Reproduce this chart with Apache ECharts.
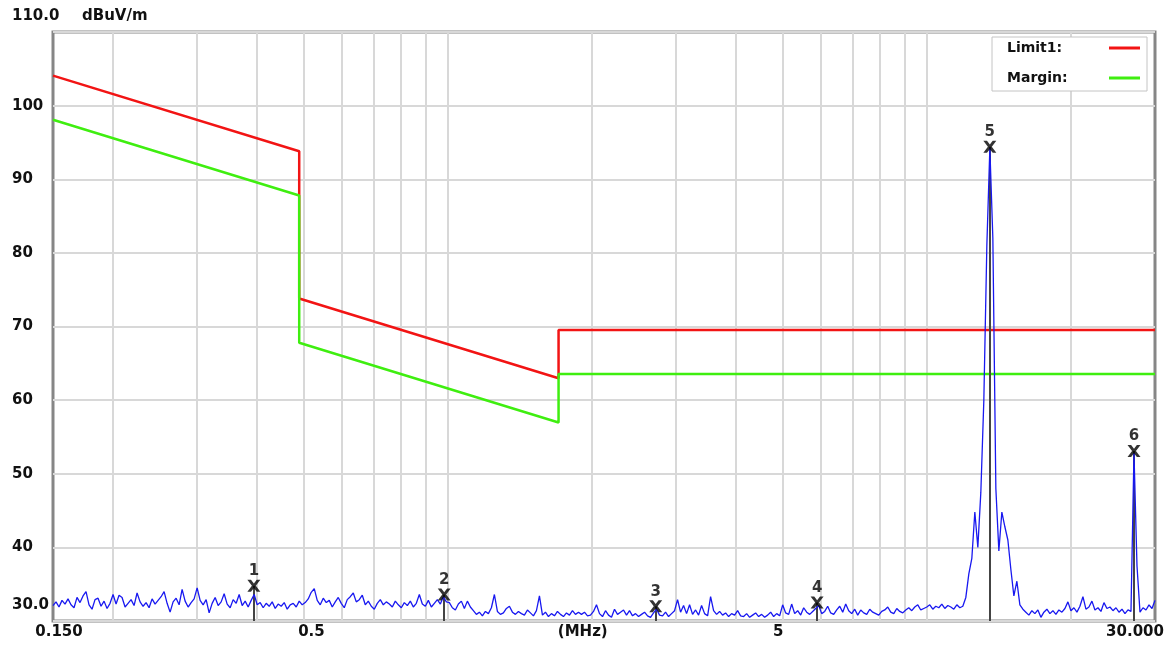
<!DOCTYPE html>
<html>
<head>
<meta charset="utf-8">
<script src="https://cdn.jsdelivr.net/npm/echarts@6/dist/echarts.min.js"></script>
<style>
  html, body { margin: 0; padding: 0; background: #fff; }
  #chart { width: 1169px; height: 648px; }
</style>
</head>
<body>
<div id="chart"></div>
<script>
// limit line (FCC 15.209 @3m) and the 6 dB margin line, MHz / dBuV/m
var limitFreqs   = [0.15, 0.49, 0.49, 1.705, 1.705, 30];
var limitLevels  = [104.08, 93.80, 73.80, 62.97, 69.54, 69.54];
var marginLevels = [98.08, 87.80, 67.80, 56.97, 63.54, 63.54];

// peak markers
var markerNames  = ['1', '2', '3', '4', '5', '6'];
var markerFreqs  = [0.394, 0.984, 2.72, 5.91, 13.56, 27.12];
var markerLevels = [34.8, 33.6, 32.0, 32.5, 94.4, 53.1];

// x axis
var gridFreqs  = [0.2, 0.3, 0.4, 0.5, 0.6, 0.7, 0.8, 0.9, 1, 2, 3, 4, 5, 6, 7, 8, 9, 10, 20];
var labelFreqs = [0.15, 0.5, 2, 5, 30];
var labelTexts = ['0.150', '0.5', '(MHz)', '5', '30.000'];
var yMin = 30, yMax = 110;

// measured trace, one value per sweep point (log sweep 0.15 .. 30 MHz)
var traceLevels = [
  // 0.15 - 0.5 MHz
  32.1, 32.6, 31.9, 32.8, 32.3, 33.0, 32.2, 31.8, 33.2, 32.5, 33.4, 34.0, 32.2, 31.6, 32.9, 33.1, 32.0, 32.7, 31.7, 32.4,
  33.6, 32.3, 33.5, 33.2, 31.9, 32.4, 32.9, 32.1, 33.8, 32.6, 32.0, 32.5, 31.8, 33.0, 32.3, 32.8, 33.3, 34.0, 32.4, 31.2,
  32.6, 33.1, 32.2, 34.3, 32.7, 31.9, 32.5, 33.0, 34.5, 32.8, 32.2, 32.9, 31.1, 32.4, 33.2, 32.1, 32.6, 33.7, 32.3, 31.8,
  32.9, 32.4, 33.6, 32.1, 32.7, 31.9, 32.8, 33.6, 32.2, 32.5, 31.8, 32.4, 32.0, 32.6, 31.7, 32.3, 32.0, 32.5, 31.6, 32.2,
  32.4, 31.9, 32.7, 32.2,
  // 0.5 - 1 MHz
  32.5, 33.0, 33.9, 34.4, 32.8, 32.2, 33.1, 32.5, 32.8, 31.9, 32.6, 33.2, 32.4, 31.8, 32.9, 33.3,
  33.8, 32.6, 32.9, 33.5, 32.2, 32.7, 32.0, 31.6, 32.4, 32.9, 32.2, 32.6, 32.3, 31.9, 32.7, 32.2,
  31.8, 32.5, 32.1, 32.7, 31.9, 32.4, 33.6, 32.3, 32.0, 32.8, 31.9, 32.4, 32.9, 32.3, 33.3, 32.6,
  // 1 - 2 MHz
  32.5, 31.8, 31.5, 32.3, 32.7, 31.7, 32.7, 31.9, 31.4, 30.9, 31.2, 30.7, 31.3, 31.0, 31.8, 33.6,
  31.3, 30.9, 31.1, 31.7, 32.0, 31.2, 30.9, 31.3, 31.0, 30.8, 31.5, 31.1, 30.7, 31.4, 33.4, 30.8,
  31.2, 30.6, 31.0, 30.7, 31.3, 30.9, 30.6, 31.1, 30.8, 31.4, 30.9, 31.2,
  // 2 - 5 MHz
  30.9, 31.2, 30.7, 30.8, 31.3, 32.2, 31.0, 30.6, 31.4, 30.8, 30.5, 31.6, 30.9, 31.2, 31.5, 30.8,
  31.4, 30.7, 31.0, 30.6, 30.9, 31.2, 30.7, 30.5, 31.1, 31.6, 30.8, 30.7, 31.2, 30.6, 31.0, 31.4,
  32.9, 31.2, 32.1, 31.0, 32.2, 30.9, 31.5, 30.8, 32.1, 31.0, 30.7, 33.3, 31.4, 30.9, 31.3, 30.8,
  31.1, 30.6, 31.0, 30.8, 31.4, 30.7, 30.6, 31.0, 30.5, 30.8, 31.1, 30.6, 30.9, 30.5, 30.8, 31.2, 30.6, 31.0, 30.7, 32.2,
  // 5 - 10 MHz
  31.1, 30.9, 32.3, 31.0, 31.4, 30.8, 31.8, 31.2, 30.9, 31.3, 31.7, 32.1, 31.0, 31.3, 32.0, 31.1,
  30.9, 31.5, 32.0, 31.2, 32.3, 31.4, 31.0, 31.6, 30.8, 31.5, 31.1, 30.9, 31.6, 31.2, 31.0, 30.8,
  31.3, 31.5, 31.9, 31.2, 31.0, 31.7, 31.3, 31.1, 31.5, 31.8, 31.4, 31.9, 32.2, 31.5, 31.7,
  // 10 - 12 MHz
  31.9, 32.2, 31.6, 32.0, 31.8, 32.3, 31.7, 32.1, 31.9, 31.6, 32.2, 31.8, 32.0,
  // 13.56 MHz carrier
  33.2, 36.4, 38.5, 44.8, 40.0, 47.5, 60.0, 81.0, 94.2, 82.0,
  48.0, 39.5, 44.8, 42.8, 41.0, 37.0, 33.4, 35.4, 32.2, 31.6,
  // 15 - 30 MHz
  31.2, 30.8, 31.4, 31.0, 31.5, 30.5, 31.2, 31.6, 31.0, 31.4, 30.9, 31.5, 31.2, 31.7, 32.6, 31.4,
  31.8, 31.2, 32.0, 33.3, 31.6, 31.9, 32.7, 31.5, 31.8, 31.3, 32.5, 31.7, 31.9, 31.4, 31.8, 31.2,
  31.6, 31.0, 31.5, 31.3, 52.8, 37.5, 31.2, 31.8, 31.5, 32.2, 31.7, 32.8
];

var FONT = 'DejaVu Sans';
var sweepIdx = traceLevels.map(function (v, i) { return i; });

function pairs(xs, ys) {
  return xs.map(function (x, i) { return [x, ys[i]]; });
}

var xRich = {
  lo:   { padding: [0, 0, 0, 12] },
  mid:  { padding: [0, 0, 0, 16] },
  mhz:  { padding: [0, 18, 0, 0] },
  five: { padding: [0, 8, 0, 0] },
  hi:   { padding: [0, 40, 0, 0] }
};
var xRichKeys = ['lo', 'mid', 'mhz', 'five', 'hi'];
for (var k in xRich) {
  xRich[k].fontFamily = FONT; xRich[k].fontWeight = 'bold'; xRich[k].fontSize = 15; xRich[k].color = '#111';
}

var myChart = echarts.init(document.getElementById('chart'));

var option = {
  animation: false,
  backgroundColor: '#fff',
  title: {
    text: 'dBuV/m',
    left: 82, top: 9, padding: 0,
    textStyle: { fontFamily: FONT, fontWeight: 'bold', fontSize: 15, color: '#111' }
  },
  legend: {
    data: ['Limit1', 'Margin'],
    orient: 'vertical',
    left: 992, top: 37,
    align: 'right',
    icon: 'rect',
    itemWidth: 31, itemHeight: 3, itemGap: 16,
    padding: [4, 7, 6, 15],
    backgroundColor: '#fff',
    borderColor: '#c4c4c4', borderWidth: 1,
    selectedMode: false,
    formatter: function (name) { return '{t|' + name + ':}'; },
    textStyle: {
      rich: { t: { width: 97, align: 'left', fontFamily: FONT, fontWeight: 'bold', fontSize: 14, color: '#111' } }
    }
  },
  grid: {
    left: 53, right: 14, top: 32, bottom: 27,
    show: true, backgroundColor: '#fff',
    borderColor: '#868686', borderWidth: 3
  },
  xAxis: [
    {
      type: 'log', logBase: 10, min: 0.15, max: 30,
      axisLine: { show: false },
      axisTick: { show: false, customValues: gridFreqs },
      splitLine: { show: true, lineStyle: { color: '#d8d8d8', width: 2 } },
      axisLabel: {
        customValues: labelFreqs,
        margin: 4,
        formatter: function (v) {
          var best = 0;
          for (var i = 1; i < labelFreqs.length; i++) {
            if (Math.abs(Math.log(labelFreqs[i] / v)) < Math.abs(Math.log(labelFreqs[best] / v))) best = i;
          }
          return '{' + xRichKeys[best] + '|' + labelTexts[best] + '}';
        },
        rich: xRich
      }
    },
    { type: 'category', data: sweepIdx, boundaryGap: false, show: false }
  ],
  yAxis: {
    type: 'value', min: yMin, max: yMax, interval: 10,
    axisLine: { show: false },
    axisTick: { show: false },
    splitLine: { show: true, lineStyle: { color: '#d8d8d8', width: 2 } },
    axisLabel: {
      align: 'left', margin: 41,
      fontFamily: FONT, fontWeight: 'bold', fontSize: 15, color: '#111',
      formatter: function (v) {
        if (v === yMin || v === yMax) return '{e|' + v.toFixed(1) + '}';
        return String(v);
      },
      rich: { e: { padding: [0, 0, 31, 0], fontFamily: FONT, fontWeight: 'bold', fontSize: 15, color: '#111' } }
    }
  },
  series: [
    {
      name: 'Limit1', type: 'line', xAxisIndex: 0,
      data: pairs(limitFreqs, limitLevels),
      showSymbol: false, symbol: 'none',
      color: '#f21414',
      lineStyle: { color: '#f21414', width: 2.5 },
      z: 2
    },
    {
      name: 'Margin', type: 'line', xAxisIndex: 0,
      data: pairs(limitFreqs, marginLevels),
      showSymbol: false, symbol: 'none',
      color: '#3fee10',
      lineStyle: { color: '#3fee10', width: 2.5 },
      z: 3
    },
    {
      name: 'markerLines', type: 'lines', coordinateSystem: 'cartesian2d', xAxisIndex: 0,
      data: markerFreqs.map(function (f, i) { return { coords: [[f, yMin], [f, markerLevels[i]]] }; }),
      lineStyle: { color: '#444', width: 2, opacity: 1 },
      z: 4
    },
    {
      name: 'Trace', type: 'line', xAxisIndex: 1,
      data: traceLevels,
      showSymbol: false, symbol: 'none',
      lineStyle: { color: '#1818f0', width: 1.3 },
      z: 5
    },
    {
      name: 'Markers', type: 'scatter', xAxisIndex: 0,
      data: pairs(markerFreqs, markerLevels),
      symbol: 'path://M0,0L2.8,0L5,3.1L7.2,0L10,0L6.5,5L10,10L7.2,10L5,6.9L2.8,10L0,10L3.5,5Z',
      symbolSize: [13, 12],
      itemStyle: { color: '#000' },
      label: {
        show: true, position: 'top', distance: 1,
        formatter: function (p) { return markerNames[p.dataIndex]; },
        fontFamily: FONT, fontWeight: 'bold', fontSize: 15, color: '#000'
      },
      z: 6
    }
  ]
};

myChart.setOption(option, true);
</script>
</body>
</html>
